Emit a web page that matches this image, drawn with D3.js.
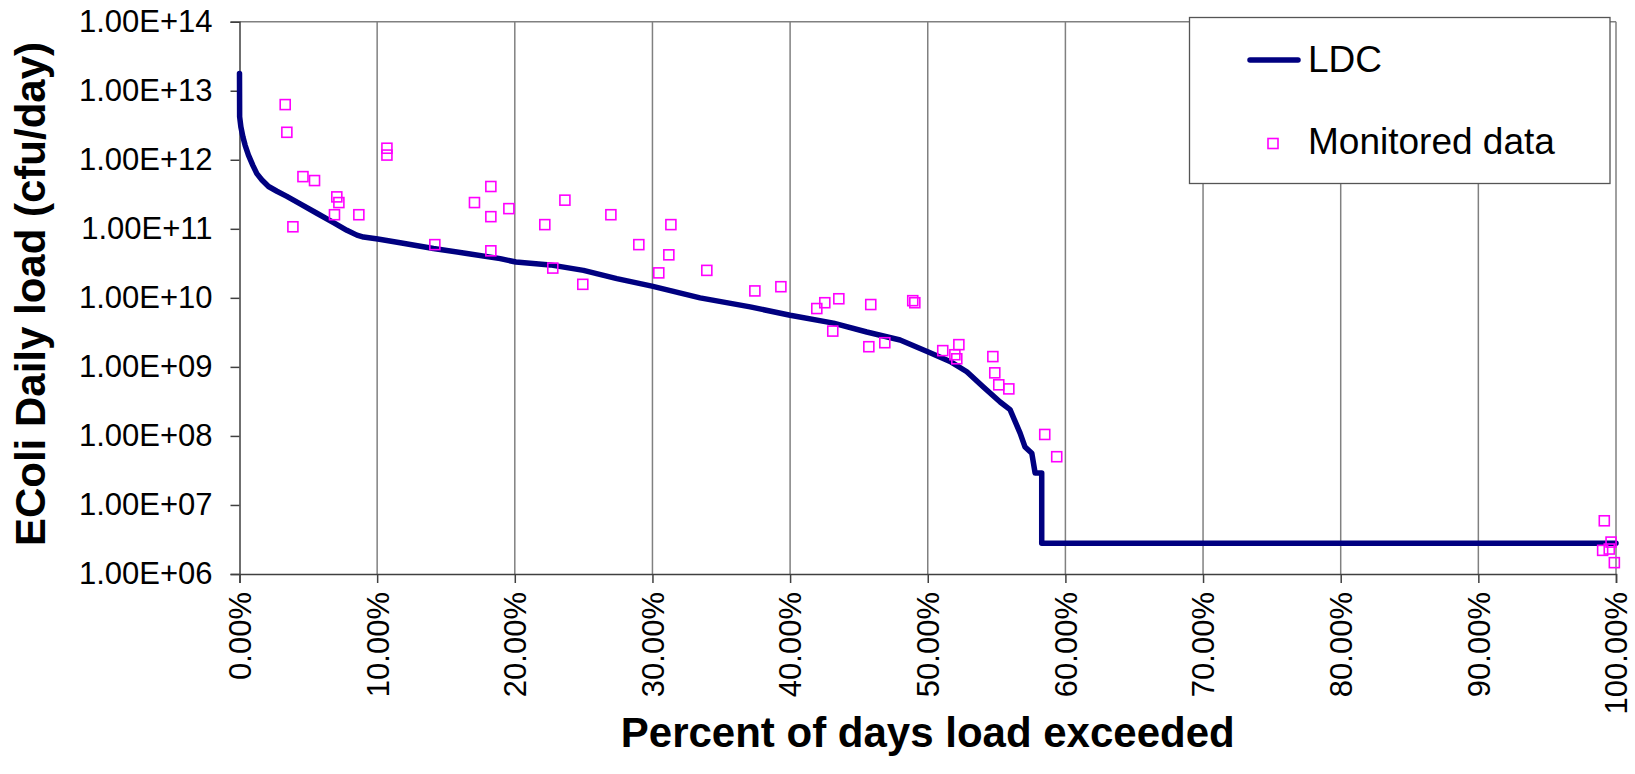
<!DOCTYPE html>
<html>
<head>
<meta charset="utf-8">
<script src="https://cdn.jsdelivr.net/npm/d3@7"></script>
<style>
  html, body { margin: 0; padding: 0; background: #ffffff; }
  svg { display: block; font-family: "Liberation Sans", Arial, sans-serif; }
</style>
</head>
<body>
<svg id="chart" width="1635" height="774"></svg>
<script>
// ---- Data ----
// LDC curve: fraction of days exceeded, load (cfu/day)
const ldcPercent = [0.0000, 0.0001, 0.0010, 0.0025, 0.0041, 0.0065, 0.0097, 0.0126, 0.0163, 0.0211,
  0.0272, 0.0344, 0.0441, 0.0562, 0.0683, 0.0780, 0.0853, 0.0901, 0.1005, 0.1167,
  0.1409, 0.1652, 0.1894, 0.2008, 0.2257, 0.2499, 0.2741, 0.2996, 0.3346, 0.3710,
  0.4000, 0.4315, 0.4557, 0.4799, 0.5000, 0.5162, 0.5284, 0.5404, 0.5526, 0.5598,
  0.5671, 0.5707, 0.5756, 0.5780, 0.5828, 0.5828, 1.0000];
const ldcLoad = [1.78e13, 4.2e12, 3.0e12, 2.14e12, 1.62e12, 1.17e12, 8.3e11, 6.3e11, 5.1e11, 4.1e11,
  3.5e11, 2.95e11, 2.3e11, 1.68e11, 1.23e11, 9.5e10, 8.1e10, 7.6e10, 7.1e10, 6.3e10,
  5.2e10, 4.4e10, 3.7e10, 3.3e10, 3.0e10, 2.5e10, 1.9e10, 1.48e10, 1.0e10, 7.4e9,
  5.6e9, 4.3e9, 3.2e9, 2.45e9, 1.66e9, 1.2e9, 8.5e8, 5.1e8, 3.1e8, 2.4e8,
  1.1e8, 6.9e7, 5.6e7, 2.9e7, 2.9e7, 2.8e6, 2.8e6];

// Monitored data: fraction of days exceeded, load (cfu/day)
const monPercent = [0.0332, 0.0344, 0.0388, 0.0461, 0.0545, 0.0707, 0.0722, 0.0690, 0.0867, 0.1071,
  0.1071, 0.1419, 0.1707, 0.1826, 0.1826, 0.1826, 0.1957, 0.2218, 0.2276, 0.2364,
  0.2494, 0.2698, 0.2901, 0.3046, 0.3119, 0.3134, 0.3395, 0.3744, 0.3933, 0.4194,
  0.4252, 0.4354, 0.4310, 0.4586, 0.4572, 0.4688, 0.4891, 0.4906, 0.5109, 0.5226,
  0.5197, 0.5211, 0.5473, 0.5487, 0.5516, 0.5589, 0.5850, 0.5937, 0.9915, 0.9964,
  0.9903, 0.9951, 0.9988];
const monLoad = [6.3e12, 2.5e12, 1.07e11, 5.7e11, 5.0e11, 2.9e11, 2.4e11, 1.6e11, 1.6e11, 1.47e12,
  1.17e12, 5.9e10, 2.4e11, 4.1e11, 1.5e11, 4.8e10, 1.96e11, 1.15e11, 2.7e10, 2.6e11,
  1.57e10, 1.6e11, 5.9e10, 2.3e10, 4.2e10, 1.15e11, 2.5e10, 1.26e10, 1.45e10, 7.0e9,
  8.5e9, 9.7e9, 3.3e9, 8.0e9, 1.96e9, 2.24e9, 9.1e9, 8.5e9, 1.72e9, 2.1e9,
  1.5e9, 1.31e9, 1.41e9, 8.2e8, 5.5e8, 4.8e8, 1.05e8, 5.0e7, 5.9e6, 2.9e6,
  2.2e6, 2.3e6, 1.46e6];

// Ticks
const yTickValues = [1e6, 1e7, 1e8, 1e9, 1e10, 1e11, 1e12, 1e13, 1e14];
const yTickLabels = ["1.00E+06", "1.00E+07", "1.00E+08", "1.00E+09", "1.00E+10", "1.00E+11", "1.00E+12", "1.00E+13", "1.00E+14"];
const xTickValues = [0, 0.1, 0.2, 0.3, 0.4, 0.5, 0.6, 0.7, 0.8, 0.9, 1.0];
const xTickLabels = ["0.00%", "10.00%", "20.00%", "30.00%", "40.00%", "50.00%", "60.00%", "70.00%", "80.00%", "90.00%", "100.00%"];

const seriesNames = ["LDC", "Monitored data"];
const xTitle = "Percent of days load exceeded";
const yTitle = "EColi Daily load (cfu/day)";

// ---- Layout ----
const plot = { left: 239.5, right: 1616, top: 21.7, bottom: 574 };
const svg = d3.select("#chart");

const x = d3.scaleLinear().domain([0, 1]).range([plot.left, plot.right]);
const y = d3.scaleLog().domain([1e6, 1e14]).range([plot.bottom, plot.top]);

// vertical gridlines
svg.append("g").selectAll("line").data(xTickValues.slice(1)).join("line")
  .attr("x1", d => x(d)).attr("x2", d => x(d))
  .attr("y1", plot.top).attr("y2", plot.bottom)
  .attr("stroke", "#808080").attr("stroke-width", 1.5);

// top border
svg.append("line").attr("x1", plot.left).attr("x2", plot.right)
  .attr("y1", plot.top).attr("y2", plot.top)
  .attr("stroke", "#808080").attr("stroke-width", 1.5);

// Y axis
const yAxis = d3.axisLeft(y).tickValues(yTickValues)
  .tickFormat((d, i) => yTickLabels[i]).tickSize(9).tickPadding(18);
const gy = svg.append("g").attr("transform", `translate(${plot.left},0)`).call(yAxis);
gy.select(".domain").attr("stroke", "#404040").attr("stroke-width", 1.5);
gy.selectAll(".tick line").attr("stroke", "#404040").attr("stroke-width", 1.5);
gy.selectAll(".tick text").attr("font-size", 31).attr("fill", "#000")
  .attr("font-family", "'Liberation Sans', Arial, sans-serif");

// X axis
const xAxis = d3.axisBottom(x).tickValues(xTickValues)
  .tickFormat((d, i) => xTickLabels[i]).tickSize(9).tickPadding(18);
const gx = svg.append("g").attr("transform", `translate(0,${plot.bottom})`).call(xAxis);
gx.select(".domain").attr("stroke", "#404040").attr("stroke-width", 1.5);
gx.selectAll(".tick line").attr("stroke", "#404040").attr("stroke-width", 1.5);
gx.selectAll(".tick text").attr("font-size", 31).attr("fill", "#000")
  .attr("font-family", "'Liberation Sans', Arial, sans-serif")
  .attr("text-anchor", "end")
  .attr("transform", "translate(0,18) rotate(-90)")
  .attr("x", 0).attr("y", 0).attr("dy", "0.35em");

// LDC line
const line = d3.line().x((d, i) => x(ldcPercent[i])).y((d, i) => y(ldcLoad[i]));
svg.append("path").datum(ldcLoad).attr("d", line)
  .attr("fill", "none").attr("stroke", "#000080").attr("stroke-width", 5.5)
  .attr("stroke-linejoin", "round").attr("stroke-linecap", "round");

// Monitored markers
const ms = 10;
svg.append("g").selectAll("rect").data(monLoad).join("rect")
  .attr("x", (d, i) => x(monPercent[i]) - ms / 2)
  .attr("y", d => y(d) - ms / 2)
  .attr("width", ms).attr("height", ms)
  .attr("fill", "none").attr("stroke", "#ff00ff").attr("stroke-width", 1.6);

// Axis titles
svg.append("text").attr("x", (plot.left + plot.right) / 2).attr("y", 747)
  .attr("text-anchor", "middle").attr("font-size", 42).attr("font-weight", "bold")
  .text(xTitle);
svg.append("text").attr("transform", `translate(45,294) rotate(-90)`)
  .attr("text-anchor", "middle").attr("font-size", 42).attr("font-weight", "bold")
  .text(yTitle);

// Legend
const lg = svg.append("g");
lg.append("rect").attr("x", 1189.5).attr("y", 17.5).attr("width", 420.5).attr("height", 166)
  .attr("fill", "#fff").attr("stroke", "#555").attr("stroke-width", 1.3);
lg.append("line").attr("x1", 1250).attr("x2", 1298).attr("y1", 60).attr("y2", 60)
  .attr("stroke", "#000080").attr("stroke-width", 5.5).attr("stroke-linecap", "round");
lg.append("text").attr("x", 1308).attr("y", 72).attr("font-size", 37).text(seriesNames[0]);
lg.append("rect").attr("x", 1268).attr("y", 138.5).attr("width", 10).attr("height", 10)
  .attr("fill", "none").attr("stroke", "#ff00ff").attr("stroke-width", 1.6);
lg.append("text").attr("x", 1308).attr("y", 154).attr("font-size", 37).text(seriesNames[1]);
</script>
</body>
</html>
